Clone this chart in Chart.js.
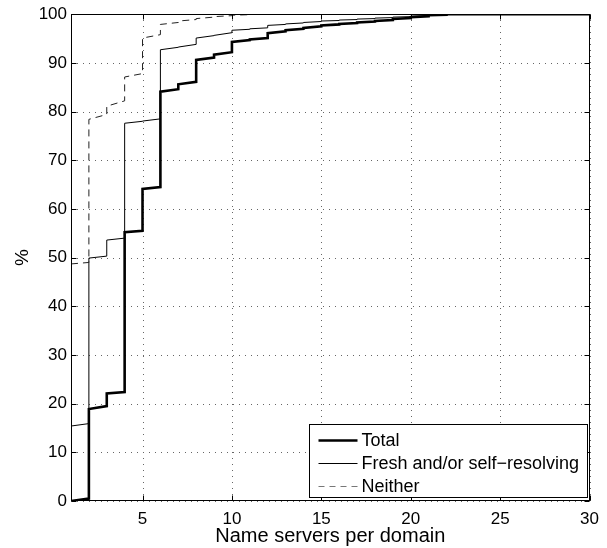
<!DOCTYPE html>
<html><head><meta charset="utf-8">
<script src="https://cdn.jsdelivr.net/npm/chart.js@4.4.0/dist/chart.umd.min.js"></script>
<style>html,body{margin:0;padding:0;background:#fff}#wrap{width:607px;height:548px;position:relative}</style>
</head><body><div id="wrap"><canvas id="c"></canvas></div>
<script>
// Number of name servers (segment start); each segment runs from k to k+1
const servers = [1,2,3,4,5,6,7,8,9,10,11,12,13,14,15,16,17,18,19,20,21,22,23,24,25,26,27,28,29];
// Cumulative % at the start and end of each segment
const totalStart = [0,18.9,22.1,55.2,64.1,84.1,85.6,90.6,91.7,94.3,94.8,96.1,96.7,97.2,97.7,98.0,98.3,98.6,99.0,99.4,99.8,100,100,100,100,100,100,100,100];
const totalEnd   = [0.5,19.5,22.4,55.5,64.5,84.6,86.1,91.1,92.2,94.7,95.1,96.5,97.0,97.5,97.9,98.2,98.5,98.8,99.2,99.6,99.9,100,100,100,100,100,100,100,100];
const freshStart = [15.4,49.9,53.6,77.6,78.05,92.7,93.25,95.1,95.65,96.7,97.0,97.7,98.0,98.3,98.6,98.8,99.0,99.2,99.4,99.6,99.8,100,100,100,100,100,100,100,100];
const freshEnd   = [15.9,50.3,54.0,78.0,78.5,93.2,93.8,95.6,96.2,96.9,97.2,97.9,98.2,98.5,98.7,98.9,99.1,99.3,99.5,99.7,99.9,100,100,100,100,100,100,100,100];
const neitherStart = [48.7,78.4,81.1,87.1,95.1,97.9,98.6,99.1,99.5,99.8,100,100,100,100,100,100,100,100,100,100,100,100,100,100,100,100,100,100,100];
const neitherEnd   = [49.0,79.4,82.2,87.8,95.8,98.3,98.9,99.4,99.7,99.9,100,100,100,100,100,100,100,100,100,100,100,100,100,100,100,100,100,100,100];
const xTicks = [5,10,15,20,25,30];
const yTicks = [0,10,20,30,40,50,60,70,80,90,100];
const seriesNames = ['Total','Fresh and/or self\u2212resolving','Neither'];
const xTitle = 'Name servers per domain';
const yTitle = '%';

const FONT = "'Liberation Sans', Arial, Helvetica, sans-serif";

function buildPoints(starts, ends){
  const pts = [];
  servers.forEach((k,i)=>{ pts.push({x:k, y:starts[i]}); pts.push({x:k+1, y:ends[i]}); });
  return pts;
}

const styles = [
  {color:'#000', width:2.6, dash:[]},
  {color:'#000', width:1, dash:[]},
  {color:'#222', width:1, dash:[7,5]}
];

const gridPlugin = {
  id:'dotgrid',
  beforeDatasetsDraw(chart){
    const {ctx, chartArea:a, scales:{x,y}} = chart;
    ctx.save();
    ctx.strokeStyle='#666'; ctx.lineWidth=1; ctx.setLineDash([1,5]);
    ctx.beginPath();
    xTicks.forEach(v=>{ const px=Math.round(x.getPixelForValue(v))+0.5; ctx.moveTo(px,a.bottom); ctx.lineTo(px,a.top); });
    yTicks.forEach(v=>{ const py=Math.round(y.getPixelForValue(v))+0.5; ctx.moveTo(a.left,py); ctx.lineTo(a.right,py); });
    ctx.stroke();
    ctx.restore();
  }
};

const frame = {
  id:'frame',
  afterDraw(chart){
    const {ctx, chartArea:a, scales:{x,y}} = chart;
    ctx.save();
    ctx.strokeStyle='#000'; ctx.lineWidth=1; ctx.setLineDash([]);
    const L=Math.round(a.left)+0.5, R=Math.round(a.right)-0.5, T=Math.round(a.top)+0.5, B=Math.round(a.bottom)-0.5;
    ctx.strokeRect(L,T,R-L,B-T);
    const tl=5;
    ctx.beginPath();
    xTicks.forEach(v=>{const px=Math.round(x.getPixelForValue(v))+0.5; ctx.moveTo(px,B); ctx.lineTo(px,B-tl); ctx.moveTo(px,T); ctx.lineTo(px,T+tl);});
    yTicks.forEach(v=>{const py=Math.round(y.getPixelForValue(v))+0.5; ctx.moveTo(L,py); ctx.lineTo(L+tl,py); ctx.moveTo(R,py); ctx.lineTo(R-tl,py);});
    ctx.stroke();
    // legend box
    const w=278, h=73;
    const lx=Math.round(a.right-3-w)+0.5, ly=Math.round(a.bottom-4-h)+0.5;
    ctx.fillStyle='#fff'; ctx.fillRect(lx,ly,w,h);
    ctx.strokeRect(lx,ly,w,h);
    ctx.font = "18px " + FONT;
    ctx.textAlign='left'; ctx.textBaseline='middle';
    seriesNames.forEach((name,i)=>{
      const yy = Math.round(ly + 15 + i*23)+0.5;
      const st = styles[i];
      ctx.beginPath();
      ctx.strokeStyle = i===2 ? '#777' : st.color;
      ctx.lineWidth = st.width;
      ctx.setLineDash(i===2 ? [6,5] : []);
      ctx.moveTo(lx+9, yy); ctx.lineTo(lx+48, yy); ctx.stroke();
      ctx.setLineDash([]);
      ctx.fillStyle='#000';
      ctx.fillText(name, lx+52, yy+1);
    });
    ctx.restore();
  }
};

const allStarts=[totalStart,freshStart,neitherStart], allEnds=[totalEnd,freshEnd,neitherEnd];
const datasets = [2,1,0].map(i=>({
  label: seriesNames[i],
  data: buildPoints(allStarts[i], allEnds[i]),
  showLine:true, pointRadius:0, tension:0, fill:false,
  borderColor: styles[i].color, borderWidth: styles[i].width, borderDash: styles[i].dash,
  borderCapStyle:'butt', borderJoinStyle:'miter'
}));

new Chart(document.getElementById('c'), {
  type:'scatter',
  data:{datasets},
  options:{
    responsive:true, maintainAspectRatio:false, animation:false, devicePixelRatio:1,
    layout:{padding:{top:13,right:12,left:0,bottom:0}},
    plugins:{legend:{display:false}, tooltip:{enabled:false}},
    scales:{
      x:{type:'linear', min:1, max:30,
        afterBuildTicks: s=>{ s.ticks = xTicks.map(v=>({value:v})); },
        afterFit: s=>{ s.height = 47; },
        grid:{display:false, drawTicks:false},
        border:{display:false},
        ticks:{color:'#000', font:{family:FONT, size:17}, padding:8, maxRotation:0, autoSkip:false},
        title:{display:true, text:xTitle, color:'#000', font:{family:FONT, size:20}, padding:{top:0,bottom:0}}
      },
      y:{type:'linear', min:0, max:100,
        afterBuildTicks: s=>{ s.ticks = yTicks.map(v=>({value:v})); },
        afterFit: s=>{ s.width = 71; },
        grid:{display:false, drawTicks:false},
        border:{display:false},
        ticks:{color:'#000', font:{family:FONT, size:17}, padding:4, autoSkip:false},
        title:{display:true, text:yTitle, color:'#000', font:{family:FONT, size:19}, padding:{top:11,bottom:0}}
      }
    }
  },
  plugins:[gridPlugin, frame]
});
</script></body></html>
